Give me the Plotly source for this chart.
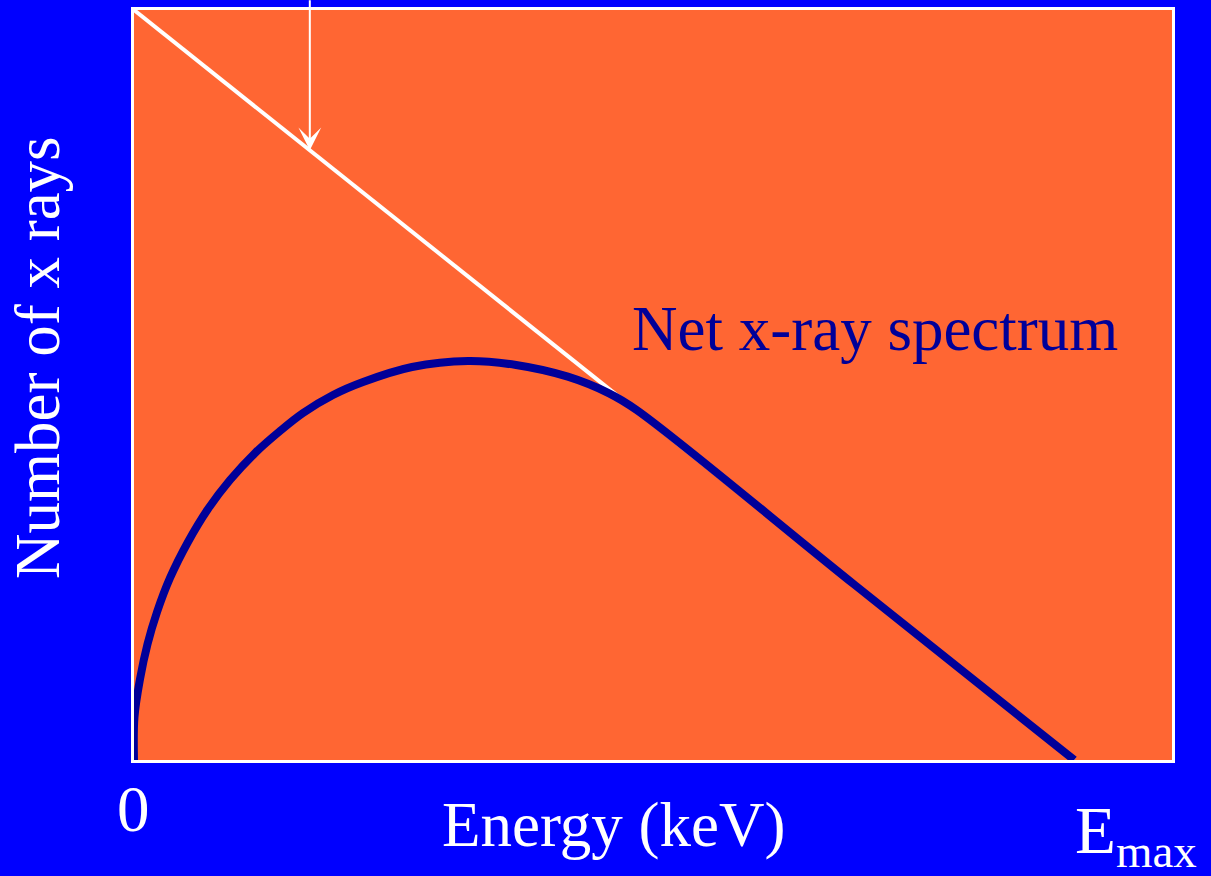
import plotly.graph_objects as go


# ----------------------------------------
# Data
# ----------------------------------------

# unfiltered (Kramers) spectrum: straight line from 0 to Emax
unfiltered_energy = [0, 100]
unfiltered_count = [100, 0]

# net spectrum after filtration
net_energy = [0, 0.05, 0.64, 1.44, 2.45, 3.83, 5.74, 7.87, 10.21, 12.87,
              15.53, 17.98, 21.17, 24.36, 29.57, 35.53, 40.64, 46.14,
              50.53, 53.46, 76.7, 100]
net_count = [0, 5.73, 10.8, 15.47, 19.73, 24.27, 29.07, 33.47, 37.33, 40.93,
             43.87, 46.27, 48.67, 50.4, 52.4, 53.2, 52.67, 51.11,
             48.89, 46.67, 23.3, 0]

arrow_energy = 18.7

x_title = "Energy (keV)"
y_title = "Number of x rays"
net_label = "Net x-ray spectrum"
tick_zero = "0"
tick_emax = "E<sub>max</sub>"


# ----------------------------------------
# Layout helpers (pixel -> paper)
# ----------------------------------------

W, H = 1211, 876
L, R, T, B = 134, 39, 10, 116

PW = W - L - R
PH = H - T - B


def px_x(px):
    return (px - L) / PW


def px_y(py):
    return (H - B - py) / PH


SERIF = "Liberation Serif, Times New Roman, serif"
BLUE_BG = "#0000FF"
ORANGE = "#FF6633"
NAVY = "#000099"


# ----------------------------------------
# Figure
# ----------------------------------------

fig = go.Figure()

fig.add_trace(
    go.Scatter(
        x=unfiltered_energy,
        y=unfiltered_count,
        mode="lines",
        line=dict(color="white", width=4),
        hoverinfo="skip"
    )
)

fig.add_trace(
    go.Scatter(
        x=net_energy,
        y=net_count,
        mode="lines",
        line=dict(color=NAVY, width=8, shape="spline", smoothing=1.0),
        hoverinfo="skip"
    )
)

fig.update_layout(
    width=W,
    height=H,
    paper_bgcolor=BLUE_BG,
    plot_bgcolor=ORANGE,
    showlegend=False,
    margin=dict(l=L, r=R, t=T, b=B, autoexpand=False),
    font=dict(family=SERIF, color="white", size=63)
)

fig.update_xaxes(
    range=[0, 110.4],
    showgrid=False,
    zeroline=False,
    showticklabels=False,
    ticks="",
    showline=True,
    mirror=True,
    linecolor="white",
    linewidth=3,
    layer="below traces"
)

fig.update_yaxes(
    range=[0, 100],
    showgrid=False,
    zeroline=False,
    showticklabels=False,
    ticks="",
    showline=True,
    mirror=True,
    linecolor="white",
    linewidth=3,
    layer="below traces"
)

# arrow pointing at the unfiltered line
fig.add_annotation(
    x=arrow_energy,
    y=unfiltered_count[0] - arrow_energy,
    xref="x",
    yref="y",
    ax=arrow_energy,
    ay=101.5,
    axref="x",
    ayref="y",
    text="",
    showarrow=True,
    arrowhead=3,
    arrowsize=1.9,
    arrowwidth=2,
    arrowcolor="white",
    standoff=0
)

annotations = [
    dict(text=net_label, x=px_x(875), y=px_y(329), size=63,
         color=NAVY, xanchor="center", yanchor="middle", angle=0),
    dict(text=x_title, x=px_x(613), y=px_y(825), size=63,
         color="white", xanchor="center", yanchor="middle", angle=0),
    dict(text=y_title, x=px_x(38), y=px_y(358), size=63,
         color="white", xanchor="center", yanchor="middle", angle=-90),
    dict(text=tick_zero, x=px_x(133), y=px_y(809), size=65,
         color="white", xanchor="center", yanchor="middle", angle=0),
    dict(text=tick_emax, x=px_x(1073), y=px_y(791), size=67,
         color="white", xanchor="left", yanchor="top", angle=0),
]

for a in annotations:
    fig.add_annotation(
        text=a["text"],
        x=a["x"],
        y=a["y"],
        xref="paper",
        yref="paper",
        xanchor=a["xanchor"],
        yanchor=a["yanchor"],
        textangle=a["angle"],
        showarrow=False,
        font=dict(family=SERIF, size=a["size"], color=a["color"])
    )

fig.write_html(
    "out.html",
    config={"displayModeBar": False},
    post_script="document.body.style.margin='0px';"
)
